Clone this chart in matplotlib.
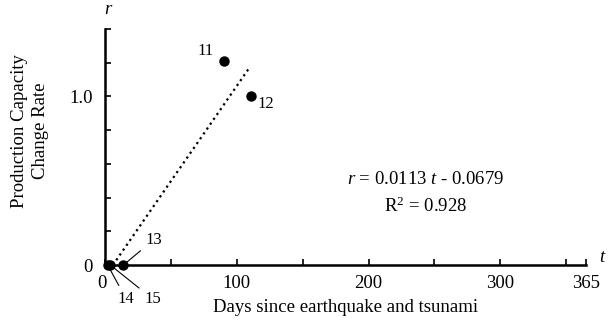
import matplotlib
matplotlib.use('Agg')
import matplotlib.pyplot as plt
import numpy as np

#######################################
# Data
#######################################
days = [90, 111, 14, 2, 4]          # points 11..15
rate = [1.21, 1.0, 0.0, 0.0, 0.0]
labels = ['11', '12', '13', '14', '15']
label_pos = [(76, 1.27), (122, 0.955), (37, 0.15), (16, -0.2), (36, -0.2)]

fit_a = 0.0113
fit_b = -0.0679
fit_t = np.array([6, 110])

xticks = [0, 100, 200, 300, 365]
xminor = [50, 150, 250, 350]
yticks = [0, 1.0]
yminor = [0.2, 0.4, 0.6, 0.8, 1.2, 1.4]

#######################################
# Figure
#######################################
plt.rcParams['font.family'] = 'Liberation Serif'
plt.rcParams['mathtext.fontset'] = 'custom'
plt.rcParams['mathtext.it'] = 'Liberation Serif:italic'
plt.rcParams['mathtext.rm'] = 'Liberation Serif'

fig = plt.figure(figsize=(6.1, 3.32), dpi=100)
ax = fig.add_axes([0.1721, 0.2018, 0.7886, 0.7109])

ax.plot(fit_t, fit_a * fit_t + fit_b, ':', color='k', lw=1.6, clip_on=False)
ax.plot(days, rate, 'o', color='k', ms=6.5, clip_on=False, zorder=5)

for i in range(len(labels)):
    if labels[i] in ('11', '12'):
        ax.text(label_pos[i][0], label_pos[i][1], labels[i], fontsize=12,
                ha='center', va='center')
    else:
        ax.annotate(labels[i], xy=(days[i], rate[i]), xytext=label_pos[i],
                    fontsize=12, ha='center', va='center', annotation_clip=False,
                    arrowprops=dict(arrowstyle='-', lw=0.8, color='k',
                                    shrinkA=2, shrinkB=3))

ax.set_xlim(0, 365)
ax.set_ylim(0, 1.4)
for s in ['top', 'right']:
    ax.spines[s].set_visible(False)
for s in ['left', 'bottom']:
    ax.spines[s].set_linewidth(1.8)

ax.set_xticks(xticks)
ax.set_xticklabels(['', '100', '200', '300', '365'])
ax.set_xticks(xminor, minor=True)
ax.set_yticks(yticks)
ax.set_yticklabels(['0', '1.0'])
ax.set_yticks(yminor, minor=True)
ax.tick_params(which='both', direction='in', length=4, width=1.2, labelsize=13.5)
ax.tick_params(axis='x', pad=7)
ax.tick_params(axis='y', pad=9)

ax.text(-2, -0.11, '0', fontsize=13.5, ha='center', va='center')
fig.text(109 / 610, 1 - 9 / 332, '$r$', fontsize=13.5, ha='center', va='center')
fig.text(603 / 610, 1 - 257 / 332, '$t$', fontsize=13.5, ha='center', va='center')

ax.set_xlabel('Days since earthquake and tsunami', fontsize=13.5, labelpad=5)
fig.text(30 / 610, 1 - 131 / 332, 'Production Capacity\nChange Rate', fontsize=13.5,
         rotation=90, ha='center', va='center', multialignment='center',
         linespacing=1.3)

ax.text(243, 0.505, '$r$ = 0.0113 $t$ - 0.0679', fontsize=13.5, ha='center', va='center')
ax.text(243, 0.35, 'R$^2$ = 0.928', fontsize=13.5, ha='center', va='center')

fig.savefig('out.png', dpi=100)
